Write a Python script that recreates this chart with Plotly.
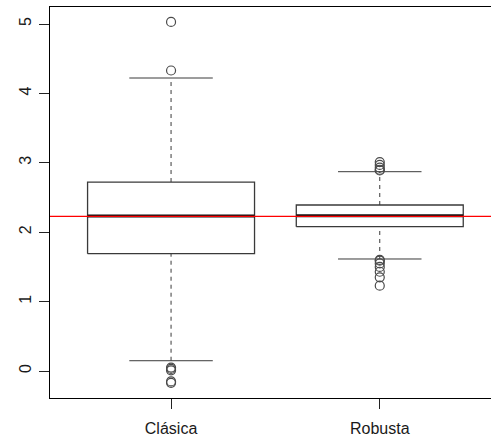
import plotly.graph_objects as go

# Box summary statistics for the two estimators
groups = ["Clásica", "Robusta"]
positions = [1, 2]
lower_whisker = [0.148, 1.614]
q1 = [1.690, 2.080]
median = [2.235, 2.238]
q3 = [2.723, 2.392]
upper_whisker = [4.222, 2.872]

# Points beyond the whiskers
outliers_clasica = [5.03, 4.33, 0.05, 0.03, 0.01, -0.15, -0.17]
outliers_robusta = [3.01, 2.97, 2.93, 2.90, 2.89,
                    1.60, 1.59, 1.55, 1.50, 1.43, 1.35, 1.23]
outliers = [outliers_clasica, outliers_robusta]

# Reference value shown as a horizontal line
reference_value = 2.229

BOX_HALF = 0.4
CAP_HALF = 0.2
LINE_COL = "#3a3a3a"

fig = go.Figure()

for i, pos in enumerate(positions):
    # whiskers (dashed)
    for lo, hi in ((lower_whisker[i], q1[i]), (q3[i], upper_whisker[i])):
        fig.add_trace(go.Scatter(
            x=[pos, pos], y=[lo, hi], mode="lines",
            line=dict(color=LINE_COL, width=1, dash="4px,4px"),
            hoverinfo="skip", showlegend=False))
    # whisker caps
    for v in (lower_whisker[i], upper_whisker[i]):
        fig.add_trace(go.Scatter(
            x=[pos - CAP_HALF, pos + CAP_HALF], y=[v, v], mode="lines",
            line=dict(color=LINE_COL, width=1),
            hoverinfo="skip", showlegend=False))
    # box
    fig.add_trace(go.Scatter(
        x=[pos - BOX_HALF, pos + BOX_HALF, pos + BOX_HALF, pos - BOX_HALF, pos - BOX_HALF],
        y=[q1[i], q1[i], q3[i], q3[i], q1[i]], mode="lines",
        line=dict(color=LINE_COL, width=1.3),
        hoverinfo="skip", showlegend=False))
    # median
    fig.add_trace(go.Scatter(
        x=[pos - BOX_HALF, pos + BOX_HALF], y=[median[i], median[i]], mode="lines",
        line=dict(color="#111111", width=3),
        hoverinfo="skip", showlegend=False))
    # outliers
    fig.add_trace(go.Scatter(
        x=[pos] * len(outliers[i]), y=outliers[i], mode="markers",
        marker=dict(symbol="circle-open", size=9, color="#4a4a4a",
                    line=dict(width=1.2, color="#4a4a4a")),
        hoverinfo="skip", showlegend=False))

# horizontal reference line across the whole panel
fig.add_shape(type="line", xref="paper", yref="y", x0=0, x1=1,
              y0=reference_value, y1=reference_value,
              line=dict(color="#ff0000", width=1.3))

fig.update_layout(
    width=491, height=443,
    margin=dict(l=50, r=0, t=7, b=45),
    paper_bgcolor="white", plot_bgcolor="white",
    font=dict(family="Liberation Sans, Arial, sans-serif", size=16, color="#1a1a1a"),
    showlegend=False,
)
fig.update_xaxes(
    range=[0.42, 2.533], tickvals=positions, ticktext=groups,
    showgrid=False, zeroline=False,
    showline=True, linecolor="black", linewidth=1, mirror=True,
    ticks="outside", ticklen=10, tickcolor="#222", tickwidth=1,
    ticklabelstandoff=6,
)
fig.update_yaxes(
    range=[-0.389, 5.245], tickvals=[0, 1, 2, 3, 4, 5],
    showgrid=False, zeroline=False,
    showline=True, linecolor="black", linewidth=1,
    ticks="outside", ticklen=10, tickcolor="#222", tickwidth=1,
    tickangle=-90, ticklabelstandoff=2,
)

fig.write_html("out.html")
